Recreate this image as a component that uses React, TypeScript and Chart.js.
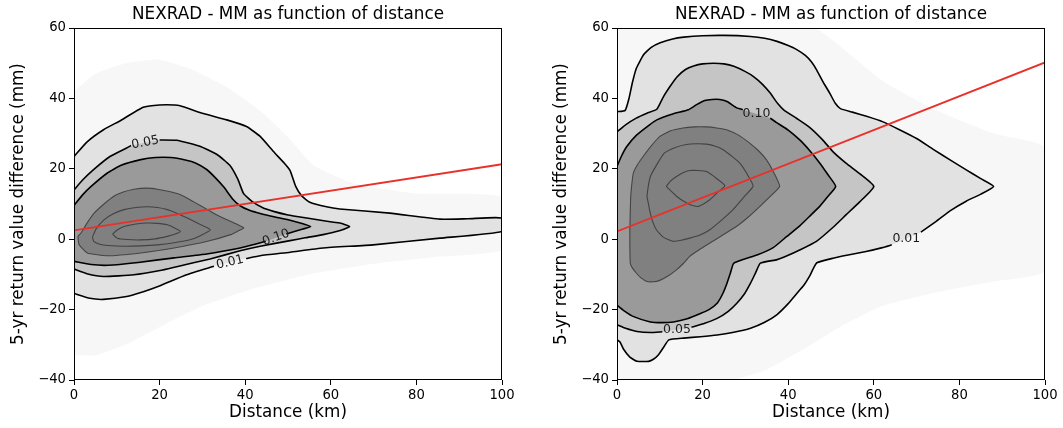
import React, { useEffect, useRef } from 'react';
import { Chart, registerables } from 'chart.js';

Chart.register(...registerables);

type Pair = [number, number | null];

const chartTitle = 'NEXRAD - MM as function of distance';
const xAxisLabel = 'Distance (km)';
const yAxisLabel = '5-yr return value difference (mm)';
const xTicks = [0, 20, 40, 60, 80, 100];
const yTicks = [-40, -20, 0, 20, 40, 60];

// ---------- Left panel ----------
const leftRegression: Pair[] = [[0, 2.5], [100, 21.3]];
const leftHaze: Pair[] = [[0, 42], [5, 47], [12, 50], [20, 51], [28, 48], [36, 43], [44, 36], [50, 29], [56, 21], [65, 16], [80, 13], [100, 12], [100, -3], [85, -5], [70, -7], [55, -10], [42, -14], [30, -19], [20, -25], [12, -30], [5, -33], [0, -33]];
const leftLevel001: Pair[] = [[0, 23.5], [3, 27.6], [6.9, 31.1], [11, 33.8], [15.8, 37.3], [18.1, 37.9], [21.6, 38.2], [24.8, 37.9], [29.4, 36.0], [35.7, 33.9], [40.3, 32.0], [43.5, 29.2], [46.6, 24.9], [49.2, 21.5], [50.5, 19.5], [51.8, 15.0], [53.2, 12.3], [55.1, 10.5], [59, 9.2], [62.1, 8.6], [73.8, 7.4], [85.5, 5.7], [92, 5.8], [100, 6.0], [100, 2.2], [85.5, 0.3], [69.9, -1.6], [58.2, -2.5], [50.5, -3.7], [43.5, -4.7], [40.2, -5.5], [36.4, null], [32.7, -7.7], [26.3, -10.1], [20.1, -13.2], [16.2, -14.9], [12.3, -16.3], [6.9, -17.1], [3.7, -16.8], [0, -15.4]];
const leftLevel005: Pair[] = [[0, 14.0], [2, 16.8], [4.5, 19.7], [8.4, 23.5], [12.3, 25.9], [13.3, 26.6], [16.6, null], [20.0, 28.2], [24.0, 28.1], [29.4, 26.4], [33.5, 24], [36.4, 21], [38.3, 17], [39.6, 13], [41.5, 10.8], [44, 9], [46.6, 7.9], [50, 6.9], [54.4, 6.0], [58, 5.3], [62.1, 4.6], [64.4, 3.6], [62, 2.4], [58.2, 1.3], [54, 0.4], [50.5, -0.4], [43.5, -2.0], [38.8, -3.3], [31.8, -5.6], [24, -7.8], [20.1, -8.9], [14, -10.1], [6.9, -10.6], [3, -9.8], [0, -8.5]];
const leftLevel010: Pair[] = [[0, 9.6], [2, 12.6], [4, 15], [7.8, 18.8], [11, 21], [15.6, 22.6], [19, 23.2], [22.6, 23.2], [26, 22.5], [28.5, 21.6], [31, 19.8], [33, 17.5], [35, 14.8], [37, 11.5], [38.8, 9.5], [41, 8.2], [43.5, 7.3], [47, 6.3], [50.5, 5.4], [53.5, 4.4], [55.3, 3.6], [53.5, 2.9], [51.5, 2.2], [49.6, 1.5], [47.4, null], [44.8, -0.6], [42.7, -1.3], [38.8, -2.5], [31, -4.2], [23.4, -5.3], [15, -6.6], [8, -7.4], [4, -7.2], [0, -6.3]];
const leftLevel4: Pair[] = [[0.9, 0.8], [1.6, 1.7], [3, 4.5], [4.7, 7.4], [7, 10], [9.3, 12.2], [11.5, 13.4], [14.0, 14.2], [17, 14.5], [19.5, 14.2], [22, 13.6], [24.9, 12.6], [28, 10.6], [31.2, 8.4], [33.5, 6.8], [35.8, 5.5], [38, 4.3], [39.7, 3.2], [38.3, 2.3], [36.6, 1.3], [31.2, -0.6], [23.4, -2.5], [15.6, -3.9], [7.8, -4.7], [3.1, -3.9], [1.2, -1.6], [0.9, 0.8]];
const leftLevel5: Pair[] = [[4.3, 0.6], [5.2, 3], [7.0, 5.5], [9.3, 7.3], [11.7, 8.4], [14.5, 9.0], [17.1, 9.2], [19.5, 9.0], [21.8, 8.4], [24, 7.4], [26.5, 6.0], [29.5, 4.2], [31.9, 2.7], [29.5, 1.0], [27.3, -0.1], [23.4, -1.0], [19.5, -1.6], [15.6, -1.9], [11.7, -2.0], [8, -1.8], [6.2, -1.5], [4.6, -0.6], [4.3, 0.6]];
const leftLevel6: Pair[] = [[9.0, 1.5], [10.2, 2.7], [11.7, 3.6], [14.5, 4.3], [17.1, 4.6], [19.5, 4.5], [21.8, 4.1], [23.5, 3.2], [24.9, 2.2], [23.5, 1.4], [21.8, 0.8], [19, 0.1], [15.6, -0.2], [12.5, -0.1], [10.1, 0.3], [9.0, 1.5]];

// ---------- Right panel ----------
const rightRegression: Pair[] = [[0, 2.2], [100, 50.2]];
const rightHaze: Pair[] = [[0, 60], [46, 60], [54, 53], [62, 45], [74, 37], [88, 30], [100, 26], [100, -9], [88, -12], [75, -15], [62, -19], [52, -25], [44, -31], [35, -37], [27, -40], [0, -40]];
const rightLevel001: Pair[] = [[0, 36.2], [1.9, 36.6], [2.8, 40], [3.6, 44.5], [4.5, 48.5], [6.2, 52.4], [8, 54.5], [10.1, 55.8], [13, 56.9], [15.6, 57.4], [20, 57.8], [25, 57.9], [31.2, 57.6], [34.5, 57.1], [37.4, 56.2], [40, 55], [42.1, 53.8], [44, 52.2], [45.5, 50.3], [46.6, 48.2], [48, 45], [49.7, 41.5], [51, 38.6], [52.2, 37.1], [55, 36.1], [58.3, 34.9], [62, 33.4], [66, 31.1], [70, 28.6], [73.8, 25.6], [78, 22.4], [81.6, 19.7], [85, 17.2], [88, 15.0], [85, 12.8], [81.6, 10.8], [78, 8.2], [74.5, 5.0], [71.0, 2.0], [67.6, null], [64.2, -1.6], [62, -2.4], [58.2, -3.5], [54, -4.5], [50.5, -5.4], [46.7, -6.7], [45.8, -8.5], [45.0, -10.5], [43.7, -13], [42.1, -15.3], [40, -18.3], [37.4, -21.4], [34.5, -23.6], [31.2, -25.3], [27, -26.5], [23.4, -27.2], [19.5, -27.7], [15.6, -28.1], [12.1, -28.6], [11, -30.5], [9.7, -32.8], [8.5, -34.1], [7.4, -34.7], [4.7, -34.7], [3, -33.5], [1.5, -31.2], [0.7, -29.2], [0, -28.6]];
const rightLevel005: Pair[] = [[0, 30.5], [2, 32.5], [4.5, 34.4], [7, 35.8], [9.3, 36.9], [10.9, 40.6], [12.5, 43.6], [14.0, 46.1], [16, 48.2], [17.9, 49.2], [20, 49.8], [22.6, 50.0], [25, 49.8], [27.3, 49.1], [30, 47.6], [31.9, 46.2], [34, 44], [35.8, 41.5], [37.5, 38.6], [39, 36.7], [42, 34.3], [45, 31.8], [48, 28.3], [50.5, 24.8], [53.5, 21.6], [56.7, 18.6], [60, 15.0], [56.7, 10.6], [53.5, 6.9], [50.5, 3.4], [46.6, -0.6], [42.8, -3.0], [39.6, -4.8], [37.4, -5.8], [33.5, -6.8], [32.4, -9.5], [31.2, -12.5], [29.8, -15.5], [28.0, -18.2], [26, -20.5], [23.4, -22.5], [20.5, -23.9], [17.4, -25.0], [14.0, null], [10.6, -26.3], [7.8, -26.5], [4.7, -26.2], [2, -25.3], [0, -24.3]];
const rightLevel010: Pair[] = [[0, 20.7], [1, 23.5], [2.2, 26.2], [4.5, 29.5], [7.6, 32.5], [9.3, 33.9], [13, 35.6], [16.7, 36.8], [18.7, 38.3], [20.5, 39.4], [22.2, 39.7], [24, 39.7], [25.7, 39.1], [28, 37.3], [29.4, 36.8], [32.6, null], [35.8, 34.4], [37.2, 33.2], [40, 31], [42.7, 28.2], [45, 25.2], [47.4, 21.6], [49.3, 18.3], [51.1, 15.0], [49.3, 12.2], [47.4, 9.4], [45, 6.5], [42.7, 3.8], [39.6, 0.7], [36.5, -2.4], [32.7, -4.5], [27.3, -6.8], [26.5, -9.6], [25.7, -12.5], [24.7, -15.5], [23.4, -18.2], [21.5, -20], [19.5, -21.1], [16.4, -22.6], [13.2, -23.5], [10.5, -23.7], [7.8, -23.5], [3.9, -22.0], [1.5, -20.2], [0, -18.7]];
const rightLevel4: Pair[] = [[3.2, 12.2], [3.4, 15.0], [3.8, 18.7], [4.8, 21.2], [6.1, 23.5], [8, 26.5], [10.0, 29.2], [12.5, 30.8], [15.4, 31.6], [18, 31.9], [20.9, 31.9], [23.3, 31.6], [25.6, 31.1], [28.5, 29.5], [31.0, 27.3], [33, 25.2], [34.9, 22.6], [36.6, 19], [38.0, 15.0], [35.5, 11.8], [32.6, 8.4], [30.5, 6.1], [27.9, 3.6], [25, 1.4], [21.7, -1.1], [19.2, -3.0], [17.0, -4.9], [15.5, -6.9], [13.9, -8.7], [12, -10.4], [10.0, -11.7], [8.5, -12.1], [7.0, -12.0], [5.6, -11], [4.5, -9.6], [3.5, -8], [3.1, -6.8], [3.0, -2], [3.0, 2.7], [3.1, 8], [3.2, 12.2]];
const rightLevel5: Pair[] = [[7.0, 12.2], [7.3, 15.0], [7.8, 17.8], [9.4, 21.4], [11.1, 24.5], [13.5, 26.0], [16.2, 26.9], [18.5, 27.1], [20.9, 27.0], [23, 26.4], [24.8, 25.4], [26.8, 23.6], [28.7, 21.6], [30.4, 18.5], [31.8, 15.1], [29.6, 11.9], [27.1, 8.4], [24.5, 5.5], [21.7, 2.7], [19.4, 1.2], [17.0, 0.3], [15, -0.3], [13.1, -0.6], [10.8, 0.6], [9.2, 2.7], [8.2, 5.5], [7.6, 8.4], [7.0, 12.2]];
const rightLevel6: Pair[] = [[11.5, 15.0], [12.5, 16.5], [13.9, 17.8], [15.4, 18.9], [17.0, 19.5], [19, 19.5], [20.9, 19.2], [23.2, 17.3], [25.2, 15.2], [23.4, 13.2], [21.7, 11.2], [20.3, 10.1], [18.9, 9.3], [17.1, 9.8], [15.4, 10.9], [13.9, 12.2], [12.6, 13.7], [11.5, 15.0]];

type Level = { name: string; pts: Pair[] };
type PanelData = {
  regression: Pair[];
  haze: Pair[];
  major: Level[];
  minor: Pair[][];
  rotateLabels: boolean;
};

const leftPanel: PanelData = {
  regression: leftRegression,
  haze: leftHaze,
  major: [
    { name: '0.01', pts: leftLevel001 },
    { name: '0.05', pts: leftLevel005 },
    { name: '0.10', pts: leftLevel010 },
  ],
  minor: [leftLevel4, leftLevel5, leftLevel6],
  rotateLabels: true,
};
const rightPanel: PanelData = {
  regression: rightRegression,
  haze: rightHaze,
  major: [
    { name: '0.01', pts: rightLevel001 },
    { name: '0.05', pts: rightLevel005 },
    { name: '0.10', pts: rightLevel010 },
  ],
  minor: [rightLevel4, rightLevel5, rightLevel6],
  rotateLabels: false,
};

const FONT = "'DejaVu Sans', 'Liberation Sans', sans-serif";
const toXY = (p: Pair[]) => p.map(([x, y]) => ({ x, y }));
const solid = (p: Pair[]) => toXY(p.filter(([, y]) => y !== null));
const fmt = (v: number) => (v < 0 ? '\u2212' + Math.abs(v) : String(v));

const majorFills = ['rgba(0,0,0,0.085)', 'rgba(0,0,0,0.13)', 'rgba(0,0,0,0.22)'];

function buildConfig(panel: PanelData, padRight: number): any {
  const base = { pointRadius: 0, pointHoverRadius: 0, tension: 0.15, spanGaps: false };
  const datasets: any[] = [];
  datasets.push({ ...base, data: solid(panel.haze), fill: 'shape', backgroundColor: 'rgba(0,0,0,0.03)', borderColor: 'rgba(0,0,0,0)', borderWidth: 0, order: 100 });
  panel.major.forEach((lv, i) => {
    datasets.push({ ...base, data: solid(lv.pts), fill: 'shape', backgroundColor: majorFills[i], borderColor: 'rgba(0,0,0,0)', borderWidth: 0, order: 90 - i * 10 });
  });
  datasets.push({ ...base, data: solid(panel.minor[0]), fill: 'shape', backgroundColor: '#808080', borderColor: 'rgba(0,0,0,0)', borderWidth: 0, order: 60 });
  panel.minor.forEach((pts) => {
    datasets.push({ ...base, data: toXY(pts), fill: false, borderColor: 'rgba(55,55,55,0.85)', borderWidth: 1.1, order: 50 });
  });
  panel.major.forEach((lv) => {
    datasets.push({ ...base, data: toXY(lv.pts), fill: false, borderColor: '#000', borderWidth: 1.6, order: 40 });
  });
  datasets.push({ ...base, tension: 0, data: toXY(panel.regression), fill: false, borderColor: '#e8312a', borderWidth: 1.9, order: 10 });

  const extras = {
    id: 'extras',
    afterDatasetsDraw(chart: any) {
      const ctx = chart.ctx;
      const xs = chart.scales.x;
      const ys = chart.scales.y;
      ctx.save();
      ctx.font = `12.5px ${FONT}`;
      ctx.fillStyle = '#1a1a1a';
      ctx.textAlign = 'center';
      ctx.textBaseline = 'middle';
      panel.major.forEach((lv) => {
        const pts = lv.pts;
        for (let i = 1; i < pts.length - 1; i++) {
          if (pts[i][1] !== null) continue;
          const a = pts[i - 1];
          const b = pts[i + 1];
          const ax = xs.getPixelForValue(a[0]);
          const ay = ys.getPixelForValue(a[1] as number);
          const bx = xs.getPixelForValue(b[0]);
          const by = ys.getPixelForValue(b[1] as number);
          let ang = Math.atan2(by - ay, bx - ax);
          if (ang > Math.PI / 2) ang -= Math.PI;
          if (ang < -Math.PI / 2) ang += Math.PI;
          ctx.save();
          ctx.translate((ax + bx) / 2, (ay + by) / 2);
          if (panel.rotateLabels) ctx.rotate(ang);
          ctx.fillText(lv.name, 0, 0);
          ctx.restore();
        }
      });
      ctx.restore();
    },
    afterDraw(chart: any) {
      const { left, top, right, bottom } = chart.chartArea;
      const ctx = chart.ctx;
      ctx.save();
      ctx.strokeStyle = '#000';
      ctx.lineWidth = 1;
      const l = Math.round(left) + 0.5;
      const t = Math.round(top) + 0.5;
      const r = Math.round(right) - 0.5;
      const b = Math.round(bottom) - 0.5;
      ctx.strokeRect(l, t, r - l, b - t);
      ctx.font = `16.8px ${FONT}`;
      ctx.fillStyle = '#000';
      ctx.textAlign = 'center';
      ctx.textBaseline = 'middle';
      ctx.fillText(chartTitle, (left + right) / 2, 14.5);
      ctx.restore();
    },
  };

  const tickFont = { size: 13.2, family: FONT };
  const labelFont = { size: 16.8, family: FONT, weight: 'normal' as const };

  return {
    type: 'line',
    data: { datasets },
    plugins: [extras],
    options: {
      responsive: false,
      animation: false,
      devicePixelRatio: 1,
      events: [],
      layout: { padding: { left: 0, right: padRight, top: 28, bottom: 0 } },
      plugins: {
        legend: { display: false },
        tooltip: { enabled: false },
        title: { display: false },
      },
      scales: {
        x: {
          type: 'linear',
          position: 'bottom',
          min: 0,
          max: 100,
          afterBuildTicks: (s: any) => { s.ticks = xTicks.map((v) => ({ value: v })); },
          afterFit: (s: any) => { s.height = 48; },
          ticks: { color: '#000', font: tickFont, padding: 3, maxRotation: 0, autoSkip: false, callback: (v: any) => fmt(Number(v)) },
          grid: { display: true, drawOnChartArea: false, drawTicks: true, tickLength: 5, color: '#000', lineWidth: 1 },
          border: { display: false },
          title: { display: true, text: xAxisLabel, color: '#000', font: labelFont, padding: { top: 0, bottom: 5 } },
        },
        y: {
          type: 'linear',
          min: -40,
          max: 60,
          afterBuildTicks: (s: any) => { s.ticks = yTicks.map((v) => ({ value: v })); },
          afterFit: (s: any) => { s.width = 74; },
          ticks: { color: '#000', font: tickFont, padding: 3, autoSkip: false, callback: (v: any) => fmt(Number(v)) },
          grid: { display: true, drawOnChartArea: false, drawTicks: true, tickLength: 5, color: '#000', lineWidth: 1 },
          border: { display: false },
          title: { display: true, text: yAxisLabel, color: '#000', font: labelFont, padding: { top: 9, bottom: 0 } },
        },
      },
    },
  };
}

function PanelChart({ panel, left, width, padRight }: { panel: PanelData; left: number; width: number; padRight: number }) {
  const ref = useRef<HTMLCanvasElement>(null);
  useEffect(() => {
    if (!ref.current) return;
    const chart = new Chart(ref.current, buildConfig(panel, padRight));
    return () => chart.destroy();
  }, [panel, padRight]);
  return (
    <canvas
      ref={ref}
      width={width}
      height={428}
      style={{ position: 'absolute', left, top: 0, width, height: 428 }}
    />
  );
}

export default function App() {
  return (
    <div style={{ position: 'absolute', left: 0, top: 0, width: 1063, height: 428, background: '#fff' }}>
      <PanelChart panel={leftPanel} left={0} width={531} padRight={29} />
      <PanelChart panel={rightPanel} left={543} width={520} padRight={18} />
    </div>
  );
}
